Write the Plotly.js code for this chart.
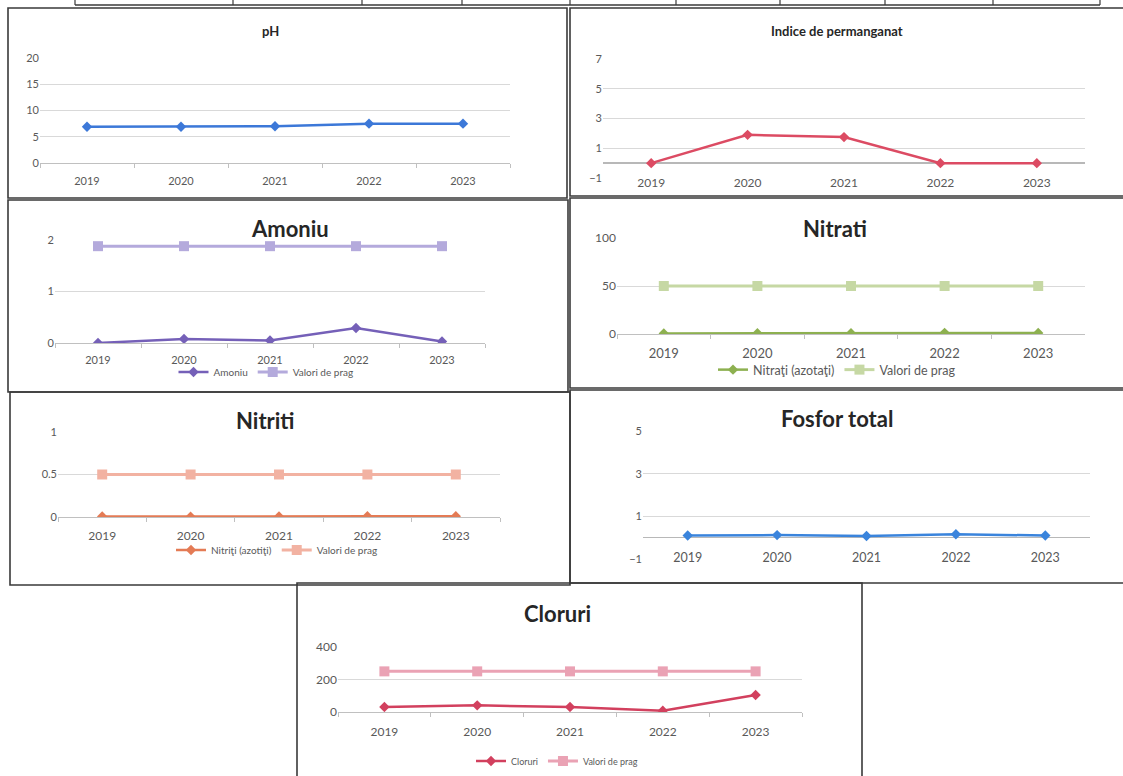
<!DOCTYPE html>
<html>
<head>
<meta charset="utf-8">
<script src="https://cdn.plot.ly/plotly-3.0.1.min.js"></script>
<style>
html,body{margin:0;padding:0;background:#fff;}
#chart{width:1123px;height:776px;}
</style>
</head>
<body>
<div id="chart"></div>
<script>
// ---- data ----
const years = ['2019', '2020', '2021', '2022', '2023'];
const phValues = [6.9, 6.9, 7.0, 7.5, 7.5];
const permanganatValues = [0, 1.9, 1.75, 0, 0];
const amoniuValues = [0, 0.08, 0.05, 0.29, 0.03];
const amoniuPrag = [1.88, 1.88, 1.88, 1.88, 1.88];
const nitratiValues = [0.6, 0.9, 0.8, 1.2, 1.0];
const nitratiPrag = [50, 50, 50, 50, 50];
const nitritiValues = [0.005, 0.004, 0.006, 0.008, 0.010];
const nitritiPrag = [0.5, 0.5, 0.5, 0.5, 0.5];
const fosforValues = [0.1, 0.12, 0.08, 0.16, 0.1];
const cloruriValues = [31, 41, 31, 8, 105];
const cloruriPrag = [250, 250, 250, 250, 250];

const W = 1123, H = 776;
const FONT = 'Lato, "Open Sans", sans-serif';
const px = (a, b) => [a / W, b / W];
const py = (top, bottom) => [1 - bottom / H, 1 - top / H];

const charts = [
  {title: 'pH', tSize: 13, tPos: [270, 31], box: [8, 8, 567, 198], plot: [40, 58, 510, 163], range: [0, 20], dtick: 5,
   series: [{name: 'pH', y: phValues, color: '#3c78d8', sym: 'diamond'}], zero: false, xf: 11, yf: 11, so: 8},
  {title: 'Indice de permanganat', tSize: 13, tPos: [837, 31], box: [570, 8, 1135, 196], plot: [603, 59, 1085, 178], range: [-1, 7], dtick: 2,
   series: [{name: 'Indice de permanganat', y: permanganatValues, color: '#dc4b63', sym: 'diamond'}], zero: true, xf: 12, yf: 11, so: -4},
  {title: 'Amoniu', tSize: 22, tPos: [290, 228], box: [8, 200, 568, 392], plot: [55, 240, 485, 343], range: [0, 2], dtick: 1,
   series: [{name: 'Amoniu', y: amoniuValues, color: '#7560b8', sym: 'diamond'},
            {name: 'Valori de prag', y: amoniuPrag, color: '#b4aadc', sym: 'square'}],
   legend: [266, 372, 10], zero: false, xf: 11, yf: 11, so: 7},
  {title: 'Nitrati', tSize: 22, tPos: [835, 228], box: [570, 198, 1135, 388], plot: [617, 238, 1085, 334], range: [0, 100], dtick: 50,
   series: [{name: 'Nitraţi (azotaţi)', y: nitratiValues, color: '#8db050', sym: 'diamond'},
            {name: 'Valori de prag', y: nitratiPrag, color: '#c6d8a4', sym: 'square'}],
   legend: [837, 370, 12.5], zero: false, xf: 13, yf: 12, so: 7},
  {title: 'Nitriti', tSize: 22, tPos: [265, 420], box: [10, 392, 570, 585], plot: [58, 432, 500, 517], range: [0, 1], dtick: 0.5,
   series: [{name: 'Nitriţi (azotiţi)', y: nitritiValues, color: '#e47b55', sym: 'diamond'},
            {name: 'Valori de prag', y: nitritiPrag, color: '#f2b2a2', sym: 'square'}],
   legend: [277, 550, 10], zero: false, xf: 12, yf: 11, so: 8},
  {title: 'Fosfor total', tSize: 22, tPos: [837, 418], box: [570, 390, 1135, 583], plot: [643, 431, 1090, 559], range: [-1, 5], dtick: 2,
   series: [{name: 'Fosfor total', y: fosforValues, color: '#3a84dc', sym: 'diamond'}], zero: true, xf: 12.5, yf: 11, so: -11},
  {title: 'Cloruri', tSize: 22, tPos: [557, 613], box: [297, 583, 862, 790], plot: [338, 647, 802, 712], range: [0, 400], dtick: 200,
   series: [{name: 'Cloruri', y: cloruriValues, color: '#d2405e', sym: 'diamond'},
            {name: 'Valori de prag', y: cloruriPrag, color: '#eaa2b4', sym: 'square'}],
   legend: [557, 761, 9], zero: false, xf: 12, yf: 12, so: 9}
];

const traces = [];
const layout = {
  width: W, height: H,
  margin: {l: 0, r: 0, t: 0, b: 0},
  paper_bgcolor: '#ffffff', plot_bgcolor: 'rgba(0,0,0,0)',
  font: {family: FONT, color: '#595959', size: 11},
  shapes: [], annotations: []
};

let legendIdx = 0;
charts.forEach((c, i) => {
  const n = i + 1;
  const xa = 'x' + (n === 1 ? '' : n), ya = 'y' + (n === 1 ? '' : n);
  const xk = 'xaxis' + (n === 1 ? '' : n), yk = 'yaxis' + (n === 1 ? '' : n);
  let legName = null;
  if (c.legend) {
    legendIdx++;
    legName = 'legend' + (legendIdx === 1 ? '' : legendIdx);
    layout[legName] = {
      orientation: 'h', x: c.legend[0] / W, xanchor: 'center', y: 1 - c.legend[1] / H, yanchor: 'middle',
      font: {family: FONT, size: c.legend[2], color: '#595959'}, bgcolor: 'rgba(0,0,0,0)',
      itemwidth: 30, tracegroupgap: 0, traceorder: 'normal'
    };
  }
  c.series.forEach(s => {
    const isPrag = s.sym === 'square';
    const t = {
      type: 'scatter', mode: 'lines+markers', x: years, y: s.y, name: s.name,
      xaxis: xa, yaxis: ya,
      line: {color: s.color, width: isPrag ? 3 : 2.5},
      marker: {symbol: s.sym, size: isPrag ? 10 : 8, color: s.color},
      showlegend: !!legName, hoverinfo: 'skip'
    };
    if (legName) t.legend = legName;
    traces.push(t);
  });
  layout[xk] = {
    domain: px(c.plot[0], c.plot[2]), anchor: ya, type: 'category', range: [-0.5, 4.5],
    showgrid: false, zeroline: false, fixedrange: true,
    showline: !c.zero, linecolor: '#c0c0c0', linewidth: 1,
    ticks: c.zero ? '' : 'outside', tickson: 'boundaries', ticklen: 4, tickcolor: '#c0c0c0',
    ticklabelstandoff: c.so,
    tickfont: {family: FONT, size: c.xf, color: '#595959'}
  };
  layout[yk] = {
    domain: py(c.plot[1], c.plot[3]), anchor: xa, range: c.range, dtick: c.dtick, tick0: c.range[0],
    showgrid: true, gridcolor: '#d9d9d9', gridwidth: 1, showline: false, ticks: '',
    zeroline: c.zero, zerolinecolor: '#b8b8b8', zerolinewidth: 1.5, fixedrange: true,
    tickfont: {family: FONT, size: c.yf, color: '#595959'}
  };
  layout.shapes.push({
    type: 'rect', xref: 'paper', yref: 'paper',
    x0: c.box[0] / W, x1: c.box[2] / W, y0: 1 - c.box[3] / H, y1: 1 - c.box[1] / H,
    line: {color: '#3a3a3a', width: 1.6}, fillcolor: 'rgba(0,0,0,0)', layer: 'below'
  });
  layout.annotations.push({
    text: '<b>' + c.title + '</b>', xref: 'paper', yref: 'paper',
    x: c.tPos[0] / W, y: 1 - c.tPos[1] / H, xanchor: 'center', yanchor: 'middle',
    showarrow: false, font: {family: FONT, size: c.tSize, color: '#262626'}
  });
});

// top table strip (partially visible row of the table above)
const tableCols = [75, 233, 362, 462, 570, 676, 780, 885, 993, 1100];
layout.shapes.push({type: 'line', xref: 'paper', yref: 'paper', x0: 75 / W, x1: 1100 / W,
  y0: 1 - 5 / H, y1: 1 - 5 / H, line: {color: '#3a3a3a', width: 1.4}});
tableCols.forEach(v => layout.shapes.push({type: 'line', xref: 'paper', yref: 'paper',
  x0: v / W, x1: v / W, y0: 1 - 5 / H, y1: 1, line: {color: '#3a3a3a', width: 1.2}}));

Plotly.newPlot('chart', traces, layout, {staticPlot: true, displayModeBar: false});
</script>
</body>
</html>
